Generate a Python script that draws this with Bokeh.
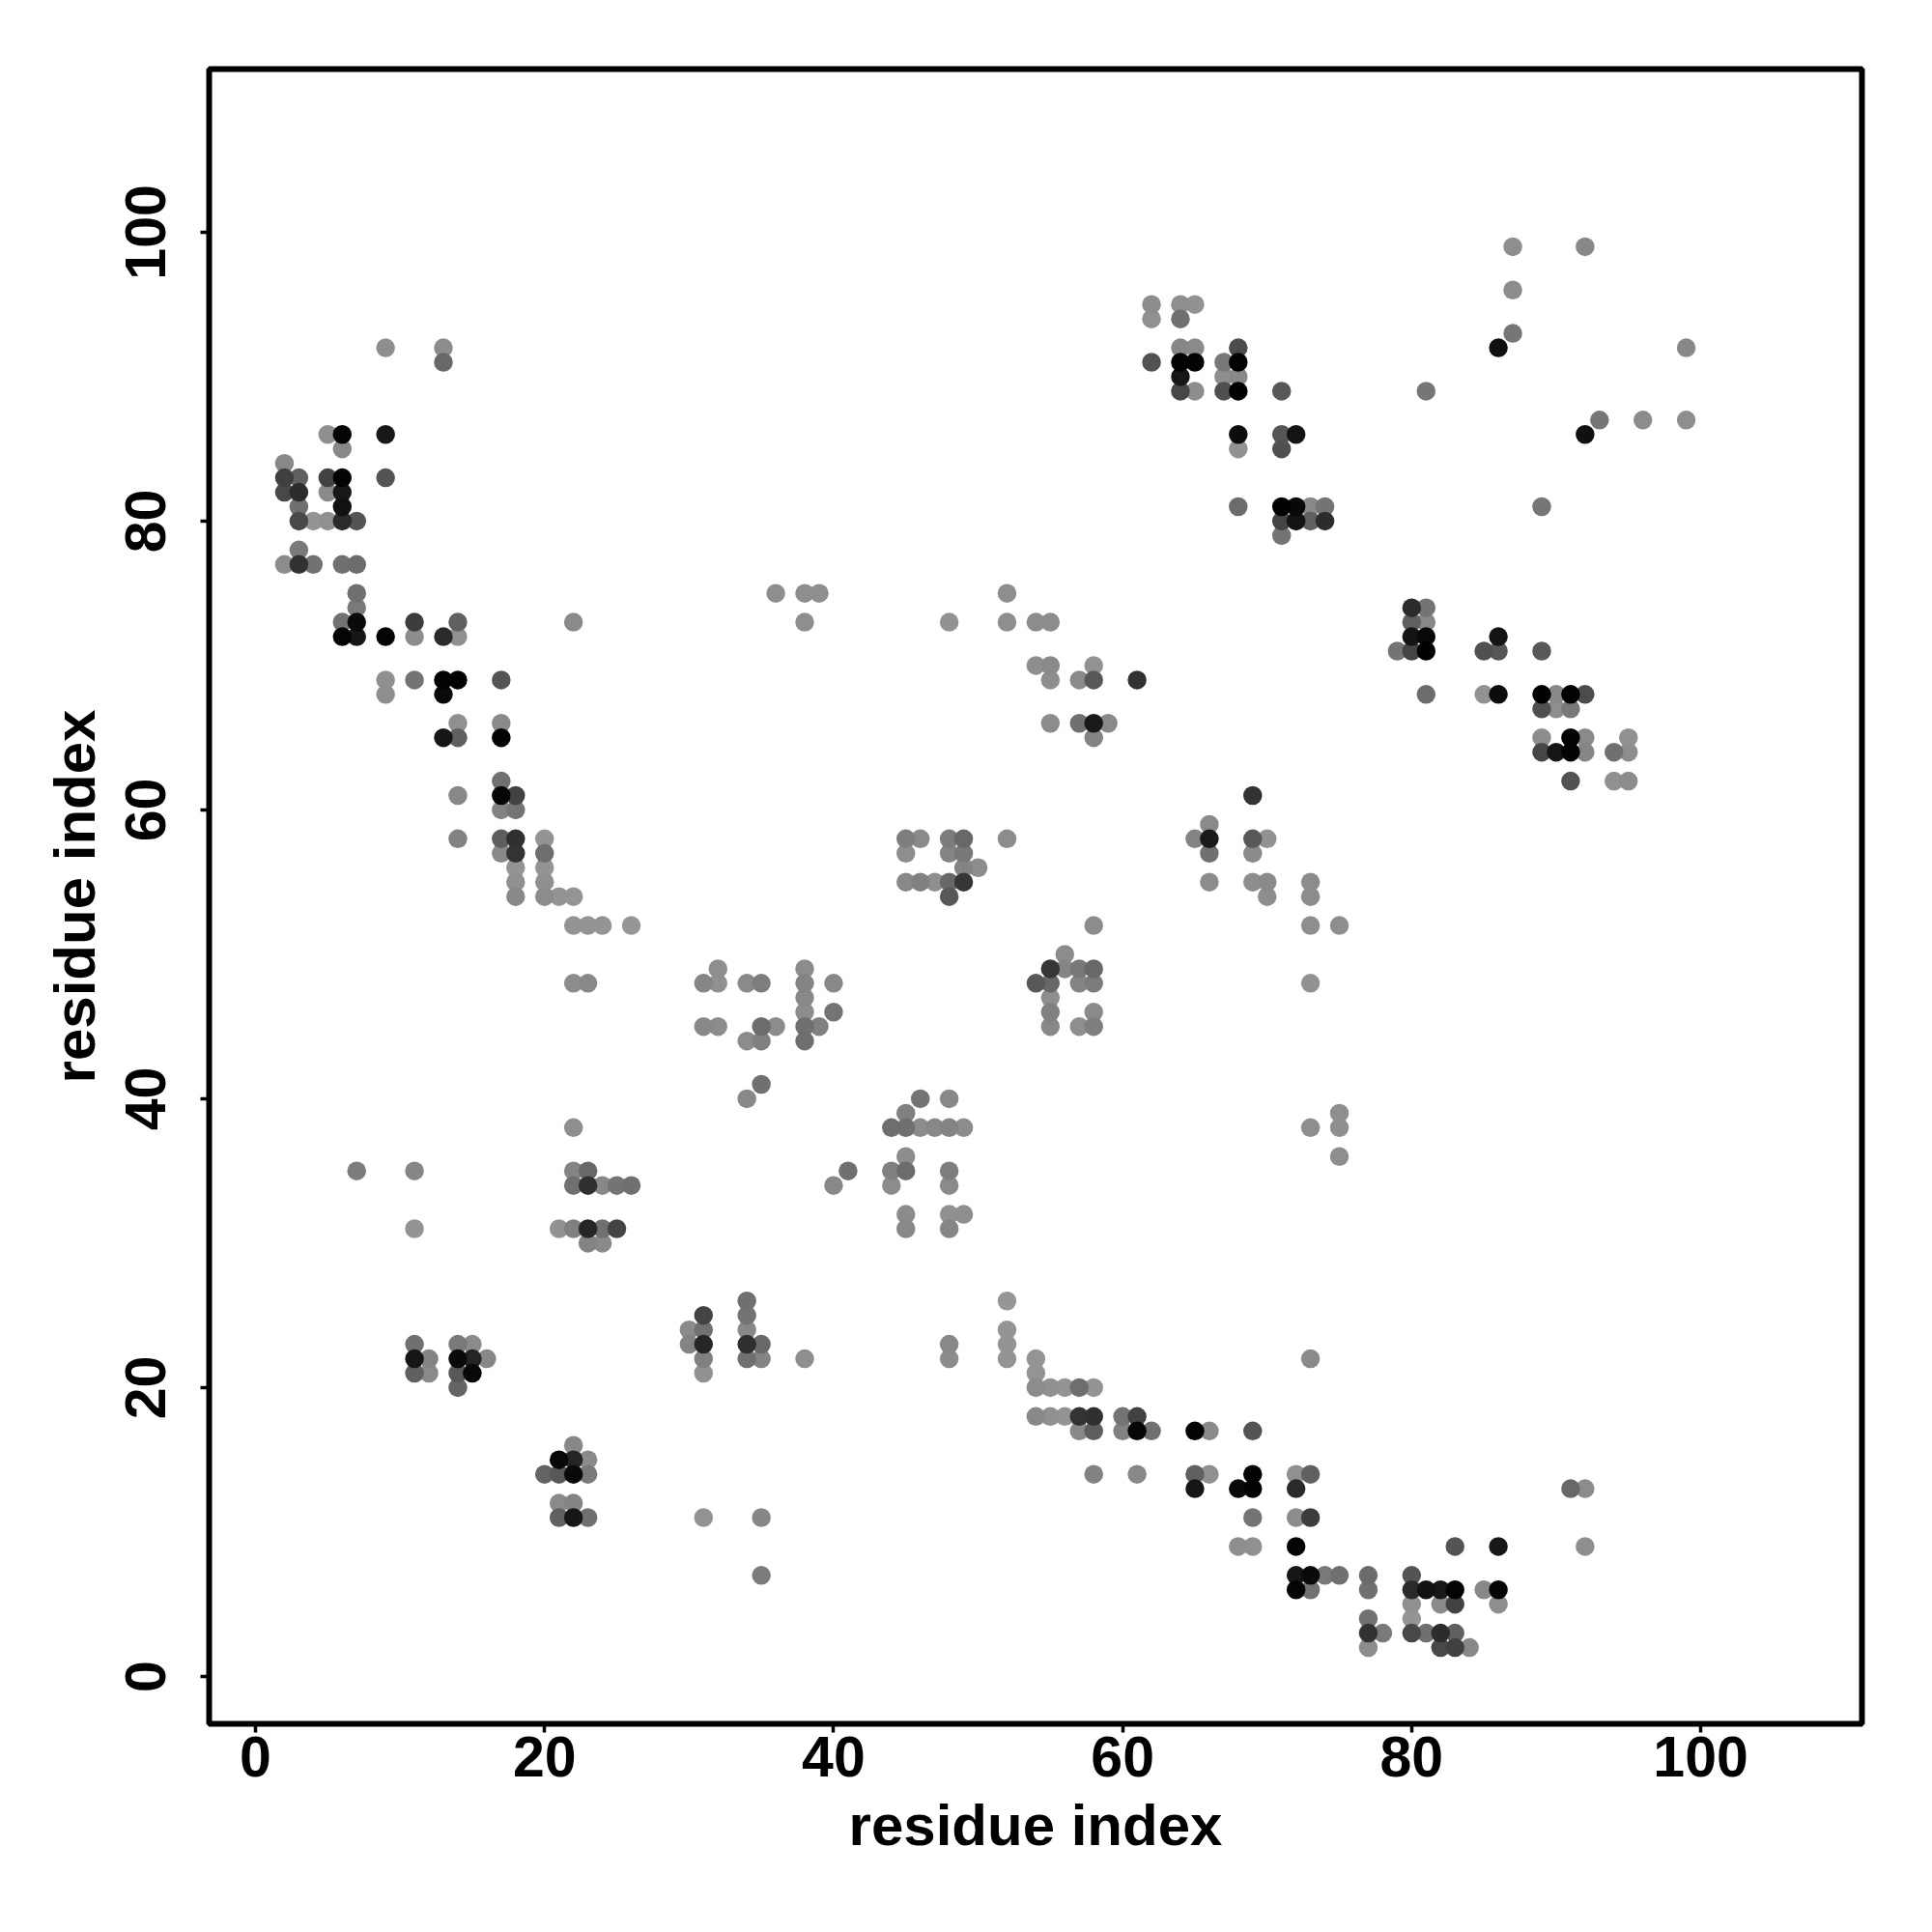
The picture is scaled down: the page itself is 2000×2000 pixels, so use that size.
import numpy as np
from bokeh.plotting import figure
from bokeh.models import FixedTicker, ColumnDataSource
from bokeh.embed import file_html
from bokeh.resources import INLINE

tick_values = [0, 20, 40, 60, 80, 100]
axis_title = "residue index"

res_i = [2,2,2,2, 3,3,3,3,3,3, 4,4, 5,5,5,5, 6,6,6,6,6,6,6,6,6, 7,7,7,7,7,7,7,
         9,9,9,9,9,9, 11,11,11,11,11,11,11,11, 12,12, 13,13,13,13,13,13,
         14,14,14,14,14,14,14,14,14,14,14, 15,15,15, 16, 17,17,17,17,17,17,17,17,
         18,18,18,18,18,18,18, 20,20,20,20,20, 21,21, 22,22,22,22,22,22,22,22,
         23,23,23,23,23,23, 24,24,24,24, 25,25, 26,26, 31,31, 32,32,32, 34,34,34,
         35,35,35,35, 36,36, 38,38,38,38,38,38,38,38, 39,39, 40,40, 45,45,45, 46,46, 47,
         48,48,48,48,48, 49,49,49,49, 50, 52,52,52, 54,54, 55,55,55,55, 57,57, 58,58,58,58,
         59, 61, 62,62,62, 64,64,64,64,64,64, 65,65,65,65, 67,67,67, 68,68,68,68,68,68,68,
         71,71,71,71,71,71, 72,72,72, 73,73, 74,74, 81, 86, 87,87,87, 92]

res_j = [77,82,83,84, 77,78,80,81,82,83, 77,80, 80,82,83,86, 72,73,77,80,81,82,83,85,86, 35,72,73,74,75,77,80,
         68,69,72,83,86,92, 21,22,23,31,35,69,72,73, 21,22, 65,68,69,72,91,92,
         20,21,22,23,58,61,65,66,69,72,73, 21,22,23, 22, 57,58,60,61,62,65,66,69,
         54,55,56,57,58,60,61, 54,55,56,57,58, 31,54, 31,34,35,38,48,52,54,73,
         30,31,34,35,48,52, 30,31,34,52, 31,34, 34,52, 45,48, 45,48,49, 40,44,48,
         41,44,45,48, 45,75, 44,45,46,47,48,49,73,75, 45,75, 46,48, 55,57,58, 55,58, 55,
         54,55,57,58,73, 55,56,57,58, 56, 58,73,75, 70,73, 66,69,70,73, 66,69, 65,66,69,70,
         66, 69, 91,94,95, 89,90,91,92,94,95, 89,91,92,95, 89,90,91, 81,85,86,89,90,91,92,
         79,80,81,85,86,89, 80,81,86, 80,81, 80,81, 89, 92, 93,96,99, 99]

grey = [0x8c,0x48,0x40,0x88, 0x32,0x7a,0x48,0x70,0x2c,0x60, 0x72,0x94, 0x90,0x8a,0x42,0x8e,
        0x04,0x72,0x70,0x2a,0x12,0x18,0x04,0x88,0x05, 0x7c,0x16,0x0a,0x7a,0x70,0x6c,0x54,
        0x8e,0x90,0x04,0x54,0x18,0x8e, 0x60,0x16,0x70,0x93,0x86,0x74,0x8c,0x3c, 0x8a,0x84,
        0x16,0x09,0x03,0x2a,0x68,0x8c,
        0x64,0x58,0x0a,0x7a,0x82,0x88,0x60,0x90,0x03,0x90,0x60, 0x08,0x24,0x8b, 0x88,
        0x88,0x5e,0x82,0x06,0x70,0x03,0x8a,0x54,
        0x88,0x90,0x94,0x33,0x30,0x74,0x42, 0x8c,0x90,0x94,0x6e,0x94, 0x92,0x94,
        0x80,0x70,0x84,0x8e,0x8c,0x94,0x94,0x8a,
        0x84,0x26,0x30,0x68,0x88,0x94, 0x8a,0x70,0x88,0x94, 0x44,0x74, 0x70,0x96, 0x88,0x86,
        0x8c,0x90,0x8e, 0x88,0x8c,0x8a,
        0x70,0x80,0x6c,0x7e, 0x8c,0x8e, 0x6e,0x70,0x8c,0x88,0x84,0x8c,0x8e,0x8e, 0x80,0x8e, 0x74,0x88,
        0x88,0x8e,0x7e, 0x80,0x8a, 0x8e,
        0x58,0x68,0x84,0x7c,0x92, 0x36,0x84,0x78,0x68, 0x8c, 0x8c,0x8e,0x8e, 0x8e,0x8c,
        0x8c,0x8e,0x8a,0x8c, 0x70,0x8a, 0x84,0x1a,0x58,0x92,
        0x8a, 0x32, 0x52,0x90,0x8c, 0x46,0x16,0x03,0x86,0x70,0x8e, 0x8d,0x03,0x8a,0x92,
        0x50,0x8e,0x78, 0x6c,0x92,0x0c,0x01,0x88,0x02,0x4c,
        0x74,0x44,0x01,0x50,0x56,0x58, 0x14,0x08,0x14, 0x60,0x88, 0x2c,0x74, 0x76, 0x10,
        0x76,0x8c,0x8e, 0x88]

assert len(res_i) == len(res_j) == len(grey), (len(res_i), len(res_j), len(grey))

# the map is symmetric; darker contacts are painted last, over the paler ones
xs = np.array(res_i + res_j)
ys = np.array(res_j + res_i)
gs = np.array(grey + grey)
order = np.argsort(-gs, kind="stable")
source = ColumnDataSource(dict(
    x=xs[order],
    y=ys[order],
    c=[f"#{g:02x}{g:02x}{g:02x}" for g in gs[order]],
))

p = figure(width=1995, height=1995, output_backend="svg", toolbar_location=None,
           x_range=(-3.21, 111.16), y_range=(-3.28, 111.3),
           min_border_left=216, min_border_right=68, min_border_top=71, min_border_bottom=211)
p.background_fill_color = "white"
p.border_fill_color = "white"
p.grid.visible = False
p.outline_line_color = "black"
p.outline_line_width = 6

p.scatter("x", "y", source=source, size=19.5, marker="circle", fill_color="c", line_color=None)

for ax, standoff_tick, standoff_title, title_size in ((p.xaxis[0], 4, 14, "60px"), (p.yaxis[0], 36, 17, "60px")):
    ax.ticker = FixedTicker(ticks=tick_values)
    ax.axis_label = axis_title
    ax.axis_line_color = None
    ax.major_tick_line_color = "black"
    ax.major_tick_line_width = 3.5
    ax.major_tick_out = 9
    ax.major_tick_in = 0
    ax.minor_tick_line_color = None
    ax.major_label_text_font = "Liberation Sans"
    ax.major_label_text_font_style = "bold"
    ax.major_label_text_font_size = "59px"
    ax.major_label_text_color = "black"
    ax.major_label_standoff = standoff_tick
    ax.axis_label_text_font = "Liberation Sans"
    ax.axis_label_text_font_style = "bold"
    ax.axis_label_text_font_size = title_size
    ax.axis_label_text_color = "black"
    ax.axis_label_standoff = standoff_title
p.yaxis[0].major_label_orientation = "vertical"

open("out.html", "w").write(file_html(p, INLINE))
